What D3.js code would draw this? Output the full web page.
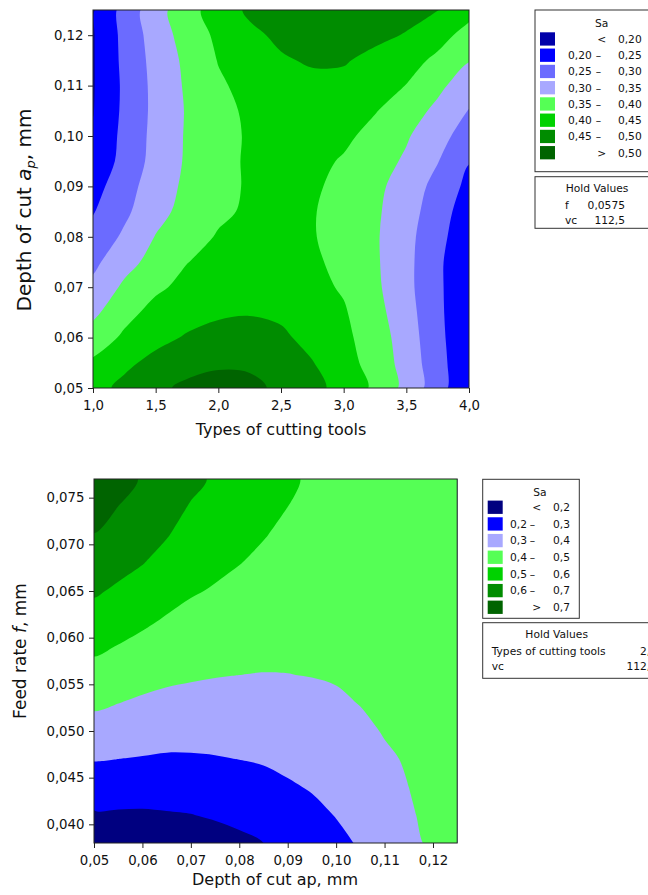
<!DOCTYPE html>
<html>
<head>
<meta charset="utf-8">
<script src="https://cdn.jsdelivr.net/npm/d3@7"></script>
<style>
  body { margin: 0; background: #fff; }
  svg { display: block; }
  text { font-family: "DejaVu Sans", sans-serif; fill: #111; }
</style>
</head>
<body>
<svg id="chart" width="648" height="895"></svg>
<script>
// ---- top chart: Sa over tool type (x) and depth of cut ap (y), f and vc held ----
const toolTypes = [1.0, 1.25, 1.5, 1.75, 2.0, 2.25, 2.5, 2.75, 3.0, 3.25, 3.5, 3.75, 4.0];
const depthRowsTop = [0.125, 0.120, 0.115, 0.110, 0.105, 0.100, 0.095, 0.090,
                      0.085, 0.080, 0.075, 0.070, 0.065, 0.060, 0.055, 0.050];
// Sa, one row per depth (top to bottom), one column per tool type
const saTop = [
  [0.195, 0.268, 0.330, 0.381, 0.424, 0.458, 0.472, 0.480, 0.481, 0.476, 0.466, 0.451, 0.415],
  [0.196, 0.264, 0.323, 0.371, 0.410, 0.440, 0.459, 0.466, 0.467, 0.461, 0.447, 0.416, 0.384],
  [0.196, 0.262, 0.317, 0.361, 0.402, 0.424, 0.445, 0.455, 0.454, 0.437, 0.416, 0.391, 0.352],
  [0.196, 0.259, 0.314, 0.357, 0.393, 0.415, 0.430, 0.438, 0.437, 0.421, 0.399, 0.361, 0.324],
  [0.198, 0.260, 0.313, 0.354, 0.386, 0.408, 0.422, 0.428, 0.424, 0.403, 0.373, 0.339, 0.298],
  [0.206, 0.263, 0.315, 0.355, 0.382, 0.406, 0.417, 0.422, 0.411, 0.383, 0.355, 0.319, 0.275],
  [0.211, 0.267, 0.317, 0.356, 0.381, 0.408, 0.418, 0.414, 0.395, 0.371, 0.343, 0.302, 0.252],
  [0.231, 0.280, 0.325, 0.360, 0.384, 0.406, 0.414, 0.407, 0.387, 0.362, 0.328, 0.284, 0.237],
  [0.247, 0.290, 0.334, 0.366, 0.391, 0.407, 0.413, 0.403, 0.382, 0.358, 0.321, 0.274, 0.223],
  [0.267, 0.308, 0.352, 0.379, 0.404, 0.412, 0.413, 0.403, 0.382, 0.356, 0.315, 0.266, 0.215],
  [0.289, 0.332, 0.368, 0.399, 0.413, 0.420, 0.419, 0.409, 0.385, 0.357, 0.314, 0.260, 0.207],
  [0.311, 0.359, 0.392, 0.412, 0.425, 0.433, 0.429, 0.413, 0.395, 0.360, 0.314, 0.260, 0.207],
  [0.339, 0.385, 0.415, 0.430, 0.443, 0.447, 0.442, 0.428, 0.405, 0.367, 0.320, 0.261, 0.208],
  [0.372, 0.408, 0.434, 0.455, 0.466, 0.468, 0.458, 0.436, 0.411, 0.376, 0.326, 0.264, 0.208],
  [0.408, 0.438, 0.466, 0.482, 0.492, 0.492, 0.479, 0.452, 0.419, 0.381, 0.331, 0.268, 0.210],
  [0.430, 0.464, 0.489, 0.510, 0.520, 0.512, 0.490, 0.464, 0.433, 0.391, 0.335, 0.272, 0.204]
];
const levelsTop = [0.20, 0.25, 0.30, 0.35, 0.40, 0.45, 0.50];
const colorsTop = ["#0000aa", "#0000ff", "#6b6bff", "#a8a8ff", "#55ff55", "#00d200", "#008c00", "#006400"];
const xTicksTop = [1.0, 1.5, 2.0, 2.5, 3.0, 3.5, 4.0];
const yTicksTop = [0.05, 0.06, 0.07, 0.08, 0.09, 0.10, 0.11, 0.12];
const holdTop = [["f", "0,0575"], ["vc", "112,5"]];

// ---- bottom chart: Sa over depth of cut ap (x) and feed rate f (y) ----
const depthCols = [0.050, 0.055, 0.060, 0.065, 0.070, 0.075, 0.080, 0.085,
                   0.090, 0.095, 0.100, 0.105, 0.110, 0.115, 0.120, 0.125];
const feedRows = [0.077, 0.074, 0.071, 0.068, 0.065, 0.062, 0.059,
                  0.056, 0.053, 0.050, 0.047, 0.044, 0.041, 0.038];
const saBottom = [
  [0.780, 0.735, 0.692, 0.656, 0.621, 0.589, 0.563, 0.537, 0.511, 0.490, 0.478, 0.470, 0.465, 0.462, 0.460, 0.458],
  [0.740, 0.699, 0.662, 0.631, 0.594, 0.565, 0.543, 0.521, 0.500, 0.479, 0.469, 0.462, 0.459, 0.457, 0.457, 0.456],
  [0.697, 0.663, 0.633, 0.605, 0.566, 0.542, 0.522, 0.504, 0.483, 0.467, 0.459, 0.454, 0.452, 0.452, 0.454, 0.454],
  [0.654, 0.626, 0.603, 0.570, 0.537, 0.518, 0.502, 0.484, 0.466, 0.455, 0.448, 0.445, 0.445, 0.447, 0.451, 0.452],
  [0.611, 0.587, 0.561, 0.532, 0.508, 0.493, 0.477, 0.462, 0.450, 0.443, 0.437, 0.436, 0.438, 0.442, 0.448, 0.450],
  [0.565, 0.542, 0.518, 0.494, 0.476, 0.463, 0.451, 0.441, 0.433, 0.430, 0.426, 0.427, 0.431, 0.436, 0.445, 0.448],
  [0.517, 0.496, 0.475, 0.456, 0.443, 0.433, 0.426, 0.419, 0.416, 0.416, 0.414, 0.418, 0.424, 0.430, 0.442, 0.446],
  [0.467, 0.448, 0.431, 0.418, 0.410, 0.404, 0.400, 0.398, 0.399, 0.402, 0.406, 0.410, 0.417, 0.424, 0.438, 0.443],
  [0.416, 0.401, 0.387, 0.377, 0.372, 0.368, 0.367, 0.367, 0.372, 0.380, 0.390, 0.402, 0.410, 0.418, 0.434, 0.440],
  [0.361, 0.350, 0.341, 0.334, 0.332, 0.332, 0.334, 0.337, 0.345, 0.355, 0.368, 0.386, 0.404, 0.412, 0.430, 0.437],
  [0.305, 0.300, 0.295, 0.290, 0.291, 0.295, 0.301, 0.308, 0.319, 0.331, 0.346, 0.367, 0.391, 0.406, 0.426, 0.434],
  [0.248, 0.245, 0.242, 0.242, 0.245, 0.253, 0.262, 0.273, 0.291, 0.306, 0.324, 0.347, 0.375, 0.400, 0.421, 0.430],
  [0.190, 0.189, 0.188, 0.193, 0.198, 0.210, 0.223, 0.237, 0.259, 0.280, 0.303, 0.328, 0.360, 0.393, 0.416, 0.426],
  [0.135, 0.133, 0.132, 0.137, 0.147, 0.161, 0.180, 0.200, 0.227, 0.253, 0.280, 0.308, 0.344, 0.385, 0.411, 0.422]
];
const levelsBottom = [0.2, 0.3, 0.4, 0.5, 0.6, 0.7];
const colorsBottom = ["#000080", "#0000ff", "#a8a8ff", "#55ff55", "#00d200", "#008c00", "#006400"];
const xTicksBottom = [0.05, 0.06, 0.07, 0.08, 0.09, 0.10, 0.11, 0.12];
const yTicksBottom = [0.040, 0.045, 0.050, 0.055, 0.060, 0.065, 0.070, 0.075];
const holdBottom = [["Types of cutting tools", "2,5"], ["vc", "112,5"]];

const svg = d3.select("#chart");
const comma = d3.formatLocale({decimal: ",", thousands: ".", grouping: [3], currency: ["", ""]});

function contourPlot(id, xs, ys, grid, levels, colors, x, y) {
  const nx = xs.length, ny = ys.length;
  const [x0, x1] = x.range(), [y1, y0] = y.range();
  svg.append("clipPath").attr("id", id)
    .append("rect").attr("x", x0).attr("y", y0).attr("width", x1 - x0).attr("height", y1 - y0);
  const g = svg.append("g").attr("clip-path", "url(#" + id + ")");
  // grid sample i sits at i + 0.5 in contour space
  const gx = d3.scaleLinear().domain([0.5, nx - 0.5]).range([x(xs[0]), x(xs[nx - 1])]);
  const gy = d3.scaleLinear().domain([0.5, ny - 0.5]).range([y(ys[0]), y(ys[ny - 1])]);
  const ring = d3.line().x(p => gx(p[0])).y(p => gy(p[1]))
    .curve(d3.curveCatmullRomClosed.alpha(0.5));
  const bandPath = mp => mp.coordinates
    .map(poly => poly.map(r => ring(r.slice(0, -1))).join("")).join("");
  g.append("rect").attr("x", x0).attr("y", y0).attr("width", x1 - x0).attr("height", y1 - y0)
    .attr("fill", colors[0]);
  const bands = d3.contours().size([nx, ny]).thresholds(levels)(grid.flat());
  g.selectAll("path").data(bands).join("path")
    .attr("d", bandPath)
    .attr("fill-rule", "evenodd")
    .attr("fill", (d, i) => colors[i + 1]);
  svg.append("rect").attr("x", x0).attr("y", y0).attr("width", x1 - x0).attr("height", y1 - y0)
    .attr("fill", "none").attr("stroke", "#222").attr("stroke-width", 1);
}

function axes(x, y, xt, yt, xf, yf) {
  const ax = svg.append("g").attr("transform", "translate(0," + y.range()[0] + ")")
    .call(d3.axisBottom(x).tickValues(xt).tickFormat(comma.format(xf)).tickSize(5).tickSizeOuter(0));
  const ay = svg.append("g").attr("transform", "translate(" + x.range()[0] + ",0)")
    .call(d3.axisLeft(y).tickValues(yt).tickFormat(comma.format(yf)).tickSize(5).tickSizeOuter(0));
  [ax, ay].forEach(a => {
    a.select(".domain").remove();
    a.selectAll("line").attr("stroke", "#222");
    a.selectAll("text").attr("font-size", 13.3).attr("font-family", "DejaVu Sans").attr("fill", "#111");
  });
  ax.selectAll("text").attr("dy", "1.05em");
  ay.selectAll("text").attr("x", -9.5);
}

function legend(o) {
  svg.append("rect").attr("x", o.x).attr("y", o.y).attr("width", o.w).attr("height", o.h)
    .attr("fill", "#fff").attr("stroke", "#333");
  svg.append("text").attr("x", o.titleX).attr("y", o.y + 17).attr("text-anchor", "middle")
    .attr("font-size", 10.7).text("Sa");
  const n = o.colors.length;
  o.colors.forEach((c, i) => {
    const cy = o.row0 + i * o.step;
    svg.append("rect").attr("x", o.x + 5).attr("y", cy - 6.7).attr("width", 15).attr("height", 13.3)
      .attr("fill", c);
    const t = (x, s, anchor) => svg.append("text").attr("x", x).attr("y", cy + 3.8)
      .attr("text-anchor", anchor).attr("font-size", 10.7).text(s);
    if (i === 0) {
      t(o.signX, "<", "middle");
      t(o.hiX, o.fmt(o.levels[0]), "end");
    } else if (i === n - 1) {
      t(o.signX, ">", "middle");
      t(o.hiX, o.fmt(o.levels[n - 2]), "end");
    } else {
      t(o.loX, o.fmt(o.levels[i - 1]), "start");
      t(o.dashX, "–", "middle");
      t(o.hiX, o.fmt(o.levels[i]), "end");
    }
  });
}

function holdBox(o) {
  svg.append("rect").attr("x", o.x).attr("y", o.y).attr("width", o.w).attr("height", o.h)
    .attr("fill", "#fff").attr("stroke", "#333");
  svg.append("text").attr("x", o.titleX).attr("y", o.y + 15.5).attr("text-anchor", "middle")
    .attr("font-size", 10.7).text("Hold Values");
  o.rows.forEach((r, i) => {
    const by = o.y + 32 + i * 15.5;
    svg.append("text").attr("x", o.labelX).attr("y", by).attr("font-size", 10.7).text(r[0]);
    svg.append("text").attr("x", o.valueX).attr("y", by).attr("text-anchor", "end")
      .attr("font-size", 10.7).text(r[1]);
  });
}

// ---- top chart ----
const xTop = d3.scaleLinear().domain([1, 4]).range([93, 469]);
const yTop = d3.scaleLinear().domain([0.05, 0.125]).range([388, 10]);
contourPlot("clipTop", toolTypes, depthRowsTop, saTop, levelsTop, colorsTop, xTop, yTop);
axes(xTop, yTop, xTicksTop, yTicksTop, ".1f", ".2f");

svg.append("text").attr("x", 281).attr("y", 435).attr("text-anchor", "middle")
  .attr("font-size", 16).text("Types of cutting tools");
const yt1 = svg.append("text").attr("transform", "translate(31,210) rotate(-90)")
  .attr("text-anchor", "middle").attr("font-family", "Liberation Sans, Arial, sans-serif")
  .attr("font-size", 20);
yt1.append("tspan").text("Depth of cut ");
yt1.append("tspan").attr("font-style", "italic").text("a");
yt1.append("tspan").attr("font-style", "italic").attr("font-size", 13).attr("dy", 4).text("p");
yt1.append("tspan").attr("dy", -4).text(", mm");

legend({x: 535, y: 10, w: 115, h: 161.7, titleX: 601.7, row0: 39, step: 16.25,
        colors: colorsTop, levels: levelsTop, fmt: comma.format(".2f"),
        signX: 601.7, hiX: 641.7, loX: 568, dashX: 598.5});
holdBox({x: 535, y: 176.7, w: 115, h: 51.6, titleX: 597, labelX: 565, valueX: 625, rows: holdTop});

// ---- bottom chart ----
const xBot = d3.scaleLinear().domain([0.05, 0.125]).range([94, 457.2]);
const yBot = d3.scaleLinear().domain([0.038, 0.077]).range([843, 479]);
contourPlot("clipBot", depthCols, feedRows, saBottom, levelsBottom, colorsBottom, xBot, yBot);
axes(xBot, yBot, xTicksBottom, yTicksBottom, ".2f", ".3f");

svg.append("text").attr("x", 275).attr("y", 885).attr("text-anchor", "middle")
  .attr("font-size", 16).text("Depth of cut ap, mm");
const yt2 = svg.append("text").attr("transform", "translate(26,651) rotate(-90)")
  .attr("text-anchor", "middle").attr("font-family", "Liberation Sans, Arial, sans-serif")
  .attr("font-size", 17);
yt2.append("tspan").text("Feed rate ");
yt2.append("tspan").attr("font-style", "italic").text("f");
yt2.append("tspan").text(", mm");

legend({x: 482.7, y: 479.3, w: 96.6, h: 139, titleX: 540, row0: 507.3, step: 16.67,
        colors: colorsBottom, levels: levelsBottom, fmt: comma.format(".1f"),
        signX: 536.7, hiX: 570, loX: 510, dashX: 532.5});
holdBox({x: 482.7, y: 622.7, w: 190, h: 55.6, titleX: 556.7, labelX: 491.7, valueX: 657, rows: holdBottom});
</script>
</body>
</html>
